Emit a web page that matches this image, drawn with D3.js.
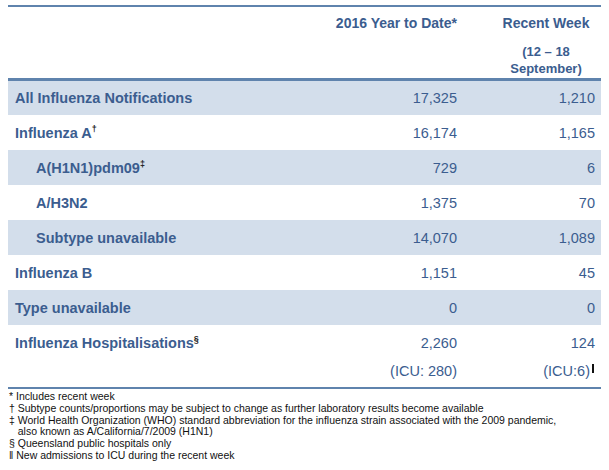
<!DOCTYPE html>
<html><head><meta charset="utf-8">
<script src="https://cdn.jsdelivr.net/npm/d3@7"></script>
<style>body{margin:0;background:#fff;font-family:"Liberation Sans",Arial,sans-serif;}</style>
</head><body>
<script>
const labels = ["All Influenza Notifications", "Influenza A", "A(H1N1)pdm09", "A/H3N2", "Subtype unavailable", "Influenza B", "Type unavailable", "Influenza Hospitalisations"];
const marks = ["", "†", "‡", "", "", "", "", "§"];
const indent = [0, 0, 1, 1, 1, 0, 0, 0];
const shaded = [1, 0, 1, 0, 1, 0, 1, 0];
const yearToDate = [17325, 16174, 729, 1375, 14070, 1151, 0, 2260];
const recentWeek = [1210, 1165, 6, 70, 1089, 45, 0, 124];
const icuYear = 280, icuWeek = 6;
const notes = ["* Includes recent week",
  "† Subtype counts/proportions may be subject to change as further laboratory results become available",
  "‡ World Health Organization (WHO) standard abbreviation for the influenza strain associated with the 2009 pandemic,",
  "   also known as A/California/7/2009 (H1N1)",
  "§ Queensland public hospitals only",
  "‖ New admissions to ICU during the recent week"];

const W = 609, H = 470, left = 8, right = 601, c1 = 457, c2 = 595;
const blue = "#3b5d8f", line = "#5f83ad", shade = "#d3deeb";
const fmt = d3.format(",");
const svg = d3.select("body").append("svg").attr("width", W).attr("height", H);
const y = d3.scaleBand().domain(d3.range(labels.length)).range([80, 80 + 35 * labels.length]);

svg.selectAll("rect.row").data(labels).enter().append("rect")
  .attr("x", left).attr("width", right - left)
  .attr("y", (d, i) => y(i)).attr("height", y.bandwidth())
  .attr("fill", (d, i) => shaded[i] ? shade : "none");

svg.append("rect").attr("x", left).attr("y", 5).attr("width", right - left).attr("height", 2).attr("fill", line);
svg.append("rect").attr("x", left).attr("y", 78).attr("width", right - left).attr("height", 3).attr("fill", line);
svg.append("rect").attr("x", left).attr("y", 387).attr("width", right - left).attr("height", 2).attr("fill", line);

const hdr = svg.append("g").attr("font-weight", "bold").attr("font-size", 14).attr("fill", blue);
hdr.append("text").attr("x", c1).attr("y", 28).attr("text-anchor", "end").text("2016 Year to Date*");
hdr.append("text").attr("x", 546).attr("y", 28).attr("text-anchor", "middle").text("Recent Week");
hdr.append("text").attr("x", 546).attr("y", 56).attr("text-anchor", "middle").attr("font-size", 13).text("(12 – 18");
hdr.append("text").attr("x", 546).attr("y", 73).attr("text-anchor", "middle").attr("font-size", 13).text("September)");

const rows = svg.selectAll("g.r").data(labels).enter().append("g")
  .attr("transform", (d, i) => "translate(0," + (y(i) + y.bandwidth() / 2 + 5) + ")");
const lab = rows.append("text").attr("x", (d, i) => indent[i] ? 36 : 15)
  .attr("font-weight", "bold").attr("font-size", 14.5).attr("fill", blue).text(d => d);
lab.append("tspan").attr("dy", -6).attr("font-size", 9).attr("fill", "#222").text((d, i) => marks[i]);
rows.append("text").attr("x", c1).attr("text-anchor", "end").attr("font-size", 14.5).attr("fill", blue)
  .text((d, i) => fmt(yearToDate[i]));
rows.append("text").attr("x", c2).attr("text-anchor", "end").attr("font-size", 14.5).attr("fill", blue)
  .text((d, i) => fmt(recentWeek[i]));

svg.append("text").attr("x", c1).attr("y", 376).attr("text-anchor", "end").attr("font-size", 14.5).attr("fill", blue).text("(ICU: " + icuYear + ")");
svg.append("text").attr("x", c2 - 5).attr("y", 376).attr("text-anchor", "end").attr("font-size", 14.5).attr("fill", blue).text("(ICU:" + icuWeek + ")");
svg.append("rect").attr("x", c2 - 3).attr("y", 364).attr("width", 2).attr("height", 9).attr("fill", "#111");

svg.append("g").attr("font-size", 10.5).attr("fill", "#111").selectAll("text").data(notes).enter().append("text")
  .attr("x", 9).attr("y", (d, i) => 400 + i * 11.8).style("white-space", "pre").text(d => d);
</script>
</body></html>
